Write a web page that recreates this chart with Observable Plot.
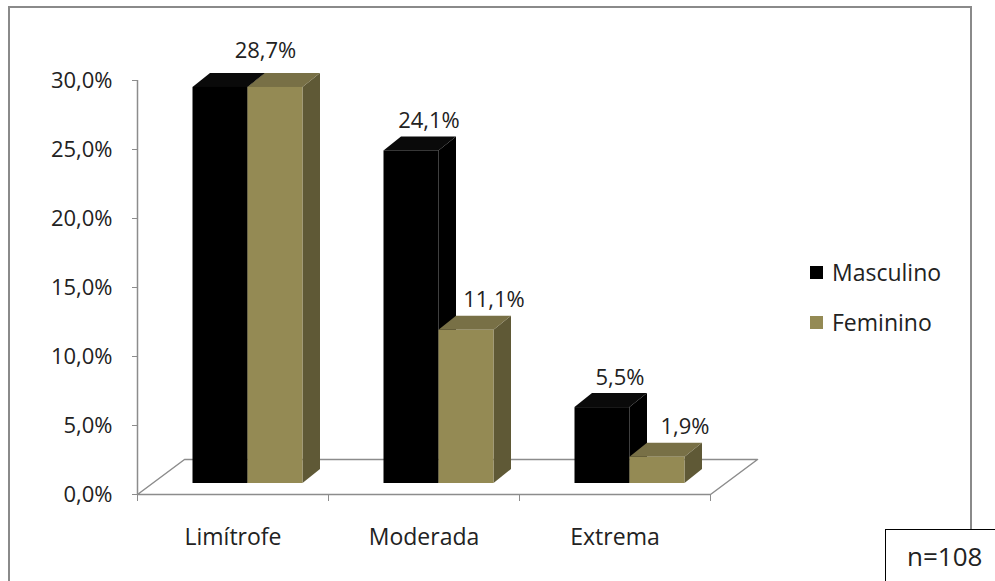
<!DOCTYPE html>
<html>
<head>
<meta charset="utf-8">
<script src="https://cdn.jsdelivr.net/npm/d3@7"></script>
<script src="https://cdn.jsdelivr.net/npm/@observablehq/plot@0.6"></script>
<style>
  html, body { margin: 0; padding: 0; background: #fff; overflow: hidden; }
  body { width: 995px; height: 581px; position: relative; font-family: "Open Sans", sans-serif; color: #222; }
  #frame { position: absolute; left: 8px; top: 6px; width: 960px; height: 640px; border: 2px solid #8a8a8a; z-index: 0; }
  #chart { position: absolute; left: 0; top: 0; z-index: 1; }
  #legend { position: absolute; left: 810px; top: 256px; z-index: 2; font-size: 23px; }
  .item { position: absolute; left: 0; white-space: nowrap; height: 32px; line-height: 32px; }
  .sw { position: absolute; left: 0; top: 10px; width: 13px; height: 13px; }
  .lbl { position: absolute; left: 22px; top: 0; }
  #nbox { position: absolute; left: 885px; top: 529px; width: 130px; height: 70px; border: 1.5px solid #000; background: #fff; z-index: 3; font-size: 26px; }
  #nbox span { position: absolute; left: 21px; top: 8px; }
</style>
</head>
<body>
<div id="frame"></div>
<div id="chart"></div>
<div id="legend"></div>
<div id="nbox"><span>n=108</span></div>
<script>
// ---- data ----
const categories = ["Limítrofe", "Moderada", "Extrema"];
const series = ["Masculino", "Feminino"];
const masculino = [28.7, 24.1, 5.5];
const feminino = [28.7, 11.1, 1.9];
const yTicks = [0, 5, 10, 15, 20, 25, 30];

// ---- styles ----
const frontColors = ["#000000", "#948a54"];
const sideColors = ["#000000", "#5f5936"];
const topColors = ["#0a0a0a", "#787046"];
const axisGray = "#8c8c8c";
const textColor = "#222222";

// ---- layout ----
const W = 995, H = 581;
const mLeft = 137, mRight = 285, mTop = 80, mBottom = 87;
const pxX = (W - mLeft - mRight) / categories.length; // px per category
const pxY = (H - mTop - mBottom) / 30;                // px per percent
// pseudo-3D geometry expressed in scale units
const DX = 17.5 / pxX, DY = 14 / pxY;      // bar depth
const FX = 47 / pxX, FY = 35 / pxY;        // floor depth
const BASE = 11 / pxY, SHIFT = 15 / pxX;   // bar front plane inside floor
const BW = 55 / pxX;                       // bar width

const values = [masculino, feminino];
const fmt = v => v.toFixed(1).replace(".", ",") + "%";

const bars = [];
categories.forEach((c, i) => {
  series.forEach((s, k) => {
    const v = values[k][i];
    const x0 = i + 0.5 + SHIFT - BW + k * BW;
    bars.push({id: c + "-" + s, k, i, v, x0, x1: x0 + BW, yb: BASE, yt: BASE + v});
  });
});

const sidePts = bars.flatMap(b => [
  {id: b.id, k: b.k, x: b.x1, y1: b.yb, y2: b.yt},
  {id: b.id, k: b.k, x: b.x1 + DX, y1: b.yb + DY, y2: b.yt + DY}
]);
const topPts = bars.flatMap(b => [
  {id: b.id, k: b.k, y: b.yt, x1: b.x0, x2: b.x1},
  {id: b.id, k: b.k, y: b.yt + DY, x1: b.x0 + DX, x2: b.x1 + DX}
]);

const floor = [
  {x: 0, y: 0}, {x: categories.length, y: 0},
  {x: categories.length + FX, y: FY}, {x: FX, y: FY}, {x: 0, y: 0}
];

// data labels
const shared = [], mLabels = [], fLabels = [];
categories.forEach((c, i) => {
  const m = masculino[i], f = feminino[i];
  if (m === f) {
    shared.push({x: i + 0.5 + SHIFT + DX, y: BASE + m + DY, text: fmt(m)});
  } else {
    mLabels.push({x: i + 0.5 + SHIFT - BW / 2 + DX, y: BASE + m + DY, text: fmt(m)});
    fLabels.push({x: i + 0.5 + SHIFT + BW / 2 + DX, y: BASE + f + DY, text: fmt(f)});
  }
});

const barMarks = [];
[0, 1].forEach(k => {
  barMarks.push(
    Plot.areaY(sidePts.filter(d => d.k === k), {x: "x", y1: "y1", y2: "y2", z: "id", fill: sideColors[k]}),
    Plot.areaX(topPts.filter(d => d.k === k), {y: "y", x1: "x1", x2: "x2", z: "id", fill: topColors[k]}),
    Plot.rect(bars.filter(d => d.k === k), {x1: "x0", x2: "x1", y1: "yb", y2: "yt", fill: frontColors[k]})
  );
});

const FS = 22;
const chart = Plot.plot({
  width: W, height: H,
  marginLeft: mLeft, marginRight: mRight, marginTop: mTop, marginBottom: mBottom,
  style: {fontFamily: "Open Sans, sans-serif", fontSize: FS + "px", color: textColor, background: "transparent", overflow: "visible"},
  x: {type: "linear", domain: [0, categories.length], label: null},
  y: {type: "linear", domain: [0, 30], label: null},
  marks: [
    Plot.line(floor, {x: "x", y: "y", stroke: axisGray, strokeWidth: 1.5}),
    Plot.ruleX([0], {y1: 0, y2: 30, stroke: axisGray, strokeWidth: 1.5}),
    Plot.axisY({ticks: yTicks, tickSize: 5, tickPadding: 20, tickFormat: fmt, stroke: axisGray, fill: textColor, fontSize: FS, label: null}),
    Plot.axisX({ticks: d3.range(categories.length + 1), tickSize: 7, tickFormat: () => "", stroke: axisGray, label: null}),
    Plot.text(categories, {x: (d, i) => i + 0.5, y: 0, dy: 43, fontSize: 23, fill: textColor}),
    ...barMarks,
    Plot.text(shared, {x: "x", y: "y", text: "text", dy: -15, lineAnchor: "bottom", fontSize: FS, fill: textColor}),
    Plot.text(mLabels, {x: "x", y: "y", text: "text", dy: -9, lineAnchor: "bottom", fontSize: FS, fill: textColor}),
    Plot.text(fLabels, {x: "x", y: "y", text: "text", dx: 10, dy: -9, lineAnchor: "bottom", fontSize: FS, fill: textColor})
  ]
});
document.getElementById("chart").appendChild(chart);

// legend
const legend = document.getElementById("legend");
series.forEach((s, k) => {
  const it = document.createElement("div");
  it.className = "item";
  it.style.top = (k * 50) + "px";
  it.innerHTML = `<div class="sw" style="background:${frontColors[k]}"></div><span class="lbl">${s}</span>`;
  legend.appendChild(it);
});
</script>
</body>
</html>
